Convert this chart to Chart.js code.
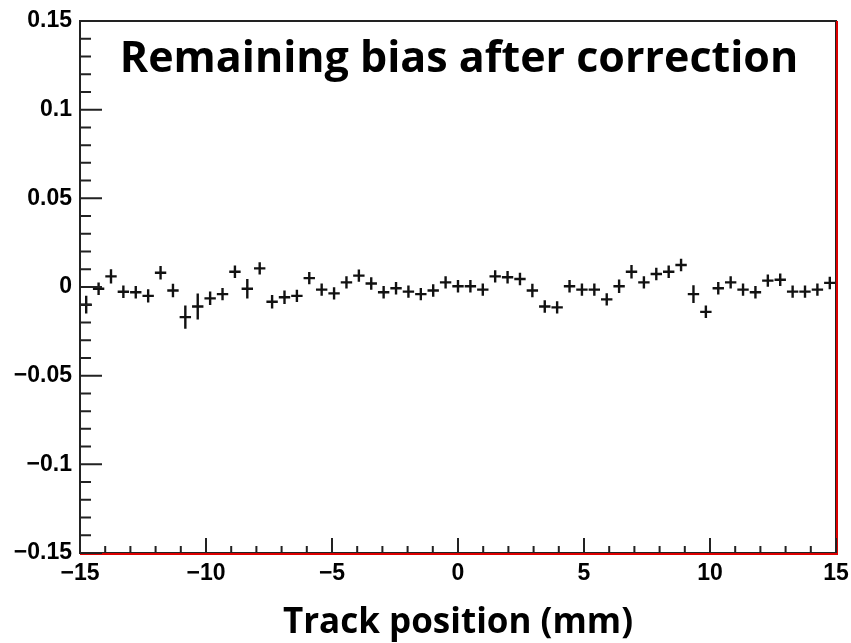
<!DOCTYPE html>
<html>
<head>
<meta charset="utf-8">
<script src="https://cdn.jsdelivr.net/npm/chart.js@4.4.1/dist/chart.umd.min.js"></script>
<style>
  html, body { margin: 0; padding: 0; background: #fff; }
</style>
</head>
<body>
<canvas id="chart" width="851" height="643"></canvas>
<script>
// bin centres (61 bins between -15 and 15 mm)
const binCenters = [
  -14.754, -14.262, -13.770, -13.279, -12.787, -12.295, -11.803, -11.311, -10.820, -10.328,
  -9.836, -9.344, -8.852, -8.361, -7.869, -7.377, -6.885, -6.393, -5.902, -5.410,
  -4.918, -4.426, -3.934, -3.443, -2.951, -2.459, -1.967, -1.475, -0.984, -0.492,
  0.000,
  0.492, 0.984, 1.475, 1.967, 2.459, 2.951, 3.443, 3.934, 4.426, 4.918,
  5.410, 5.902, 6.393, 6.885, 7.377, 7.869, 8.361, 8.852, 9.344, 9.836,
  10.328, 10.820, 11.311, 11.803, 12.295, 12.787, 13.279, 13.770, 14.262, 14.754
];
const halfBin = 0.2459;

// remaining bias per bin
const bias = [
  -0.0100, -0.0010, 0.0060, -0.0027, -0.0030, -0.0050, 0.0080, -0.0020, -0.0170, -0.0110,
  -0.0064, -0.0040, 0.0086, -0.0010, 0.0105, -0.0083, -0.0058, -0.0050, 0.0050, -0.0015,
  -0.0036, 0.0026, 0.0064, 0.0020, -0.0030, -0.0007, -0.0026, -0.0040, -0.0020, 0.0026,
  0.0004,
  0.0004, -0.0015, 0.0060, 0.0055, 0.0045, -0.0020, -0.0110, -0.0115, 0.0004, -0.0015,
  -0.0015, -0.0070, 0.0004, 0.0086, 0.0026, 0.0073, 0.0086, 0.0124, -0.0040, -0.0140,
  -0.0007, 0.0026, -0.0015, -0.0030, 0.0036, 0.0041, -0.0026, -0.0026, -0.0015, 0.0023
];

// vertical error per bin
const biasErr = [
  0.0050, 0.0035, 0.0040, 0.0035, 0.0035, 0.0038, 0.0038, 0.0038, 0.0065, 0.0073,
  0.0038, 0.0035, 0.0035, 0.0055, 0.0035, 0.0038, 0.0038, 0.0035, 0.0035, 0.0035,
  0.0035, 0.0035, 0.0035, 0.0035, 0.0035, 0.0035, 0.0035, 0.0035, 0.0035, 0.0035,
  0.0035,
  0.0035, 0.0035, 0.0035, 0.0035, 0.0035, 0.0038, 0.0035, 0.0035, 0.0035, 0.0035,
  0.0035, 0.0035, 0.0038, 0.0038, 0.0035, 0.0035, 0.0035, 0.0035, 0.0050, 0.0035,
  0.0035, 0.0035, 0.0035, 0.0035, 0.0035, 0.0035, 0.0035, 0.0035, 0.0035, 0.0035
];

const xMajor = [-15, -10, -5, 0, 5, 10, 15];
const yMajor = [-0.15, -0.1, -0.05, 0, 0.05, 0.1, 0.15];

const plotTitle = 'Remaining bias after correction';
const xTitle = 'Track position (mm)';

function fmt(v) {
  const s = String(parseFloat(v.toFixed(2)));
  return s.replace('-', '\u2212');
}

// ROOT-like frame, inner ticks and error crosses
const rootFrame = {
  id: 'rootFrame',
  afterDatasetsDraw(chart) {
    const { ctx, chartArea: a, scales: { x, y } } = chart;
    ctx.save();

    // error crosses
    ctx.strokeStyle = '#111';
    ctx.lineWidth = 2.4;
    ctx.beginPath();
    bias.forEach((v, i) => {
      const px = x.getPixelForValue(binCenters[i]);
      const py = y.getPixelForValue(v);
      ctx.moveTo(x.getPixelForValue(binCenters[i] - halfBin) + 0.5, py);
      ctx.lineTo(x.getPixelForValue(binCenters[i] + halfBin) - 0.5, py);
      ctx.moveTo(px, y.getPixelForValue(v + biasErr[i]));
      ctx.lineTo(px, y.getPixelForValue(v - biasErr[i]));
    });
    ctx.stroke();

    // frame
    ctx.strokeStyle = '#222';
    ctx.lineWidth = 2;
    ctx.strokeRect(a.left, a.top, a.right - a.left, a.bottom - a.top);
    ctx.strokeStyle = '#dd0000';
    ctx.lineWidth = 2;
    ctx.beginPath();
    ctx.moveTo(a.left, a.bottom + 1);
    ctx.lineTo(a.right + 1, a.bottom + 1);
    ctx.lineTo(a.right + 1, a.top);
    ctx.stroke();

    // ticks
    ctx.strokeStyle = '#222';
    ctx.lineWidth = 2;
    ctx.beginPath();
    for (let k = -15; k <= 15; k++) {
      const px = x.getPixelForValue(k);
      const len = k % 5 === 0 ? 15 : 7;
      ctx.moveTo(px, a.bottom);
      ctx.lineTo(px, a.bottom - len);
    }
    for (let k = -15; k <= 15; k++) {
      const py = y.getPixelForValue(k / 100);
      const len = k % 5 === 0 ? 22 : 11;
      ctx.moveTo(a.left, py);
      ctx.lineTo(a.left + len, py);
    }
    ctx.stroke();

    // title inside the frame
    ctx.fillStyle = '#000';
    ctx.font = 'bold 43px "Open Sans"';
    ctx.textAlign = 'center';
    ctx.textBaseline = 'alphabetic';
    ctx.fillText(plotTitle, 459, 72);
    ctx.restore();
  }
};

new Chart(document.getElementById('chart'), {
  type: 'scatter',
  data: {
    datasets: [{
      data: binCenters.map((c, i) => ({ x: c, y: bias[i] })),
      pointRadius: 0,
      showLine: false
    }]
  },
  options: {
    responsive: false,
    animation: false,
    devicePixelRatio: 1,
    layout: { padding: { top: 21, right: 15, left: 0, bottom: 0 } },
    plugins: { legend: { display: false }, tooltip: { enabled: false } },
    scales: {
      x: {
        type: 'linear',
        min: -15,
        max: 15,
        afterBuildTicks: (s) => { s.ticks = xMajor.map(v => ({ value: v })); },
        afterFit: (s) => { s.height = 90; s.paddingLeft = 0; s.paddingRight = 0; },
        grid: { display: false, drawTicks: false },
        border: { display: false },
        ticks: {
          color: '#000',
          padding: 7,
          maxRotation: 0,
          font: { family: '"Liberation Sans"', weight: 'bold', size: 23 },
          callback: (v) => fmt(v)
        },
        title: {
          display: true,
          text: xTitle,
          color: '#000',
          font: { family: '"Open Sans"', weight: 'bold', size: 35 },
          padding: { top: 0, bottom: -1 }
        }
      },
      y: {
        type: 'linear',
        min: -0.15,
        max: 0.15,
        afterBuildTicks: (s) => { s.ticks = yMajor.map(v => ({ value: v })); },
        afterFit: (s) => { s.width = 80; s.paddingTop = 0; s.paddingBottom = 0; },
        grid: { display: false, drawTicks: false },
        border: { display: false },
        ticks: {
          color: '#000',
          padding: 8,
          font: { family: '"Liberation Sans"', weight: 'bold', size: 23 },
          callback: (v) => fmt(v)
        }
      }
    }
  },
  plugins: [rootFrame]
});
</script>
</body>
</html>
